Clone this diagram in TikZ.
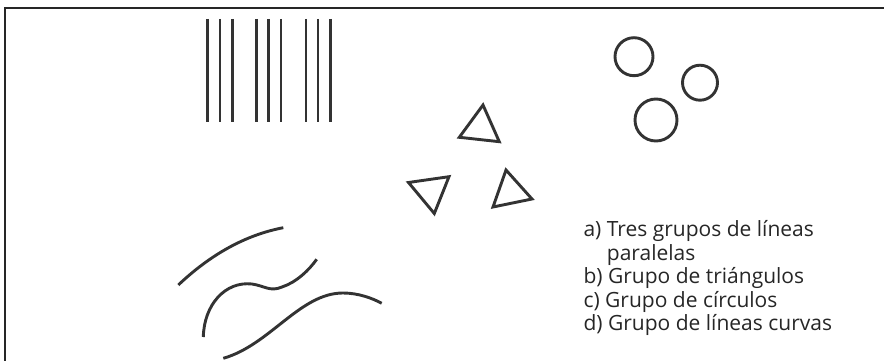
\documentclass[tikz,border=0pt]{standalone}
\usepackage{fontspec}
\setmainfont{Open Sans}
\begin{document}
\begin{tikzpicture}[x=1pt,y=-1pt,
  ink/.style={draw=black!80, line width=2.9pt},
  frame/.style={draw=black!85, line width=2pt},
  lbl/.style={anchor=base west, inner sep=0pt, font=\fontsize{21}{25}\selectfont, text=black!85}]
\useasboundingbox (0,0) rectangle (884,361);
% frame (top and left edges)
\coordinate (fl) at (5,361);
\coordinate (fc) at (5,8);
\coordinate (fr) at (884,8);
\draw[frame] (fl) -- (fc) -- (fr);
% parallel lines
\foreach \x [count=\i] in {207.3,220,232.3,256.3,268.7,281,306,318,330.3}{
  \coordinate (lt\i) at (\x,19);
  \coordinate (lb\i) at (\x,121.5);
  \draw[ink] (lt\i) -- (lb\i);
}
% triangles
\coordinate (ta1) at (483,105); \coordinate (ta2) at (459.3,137.3); \coordinate (ta3) at (499.3,141.7);
\draw[ink, line join=miter] (ta1) -- (ta2) -- (ta3) -- cycle;
\coordinate (tb1) at (408.5,182.5); \coordinate (tb2) at (449,176.7); \coordinate (tb3) at (434.3,213.5);
\draw[ink, line join=miter] (tb1) -- (tb2) -- (tb3) -- cycle;
\coordinate (tc1) at (506,170); \coordinate (tc2) at (532,199); \coordinate (tc3) at (493,207);
\draw[ink, line join=miter] (tc1) -- (tc2) -- (tc3) -- cycle;
% circles
\node[ink, circle, minimum size=38pt, inner sep=0pt] (c1) at (634,56.7) {};
\node[ink, circle, minimum size=35pt, inner sep=0pt] (c2) at (700,82.7) {};
\node[ink, circle, minimum size=42pt, inner sep=0pt] (c3) at (656,120) {};
% curves
\coordinate (k1s) at (178.3,285); \coordinate (k1e) at (283.3,227.7);
\draw[ink] (k1s) .. controls (210,255) and (245,235) .. (k1e);
\coordinate (k2s) at (203.3,337); \coordinate (k2m) at (252,284); \coordinate (k2n) at (282,287); \coordinate (k2e) at (316.7,259.3);
\draw[ink] (k2s) .. controls (204,305) and (225,281) .. (k2m)
  .. controls (265,286) and (270,292) .. (k2n)
  .. controls (297,282) and (309,270) .. (k2e);
\coordinate (k3s) at (223.3,358.3); \coordinate (k3m) at (343,293); \coordinate (k3e) at (381.7,303.3);
\draw[ink] (k3s) .. controls (270,345) and (300,293) .. (k3m)
  .. controls (358,293) and (372,298) .. (k3e);
% labels
\node[lbl] (la) at (583.3,236.5) {a) Tres grupos de líneas};
\node[lbl] (la2) at (606.7,260) {paralelas};
\node[lbl] (lb) at (583.3,283.5) {b) Grupo de triángulos};
\node[lbl] (lc) at (583.3,307) {c) Grupo de círculos};
\node[lbl] (ld) at (583.3,330.5) {d) Grupo de líneas curvas};
\end{tikzpicture}
\end{document}
